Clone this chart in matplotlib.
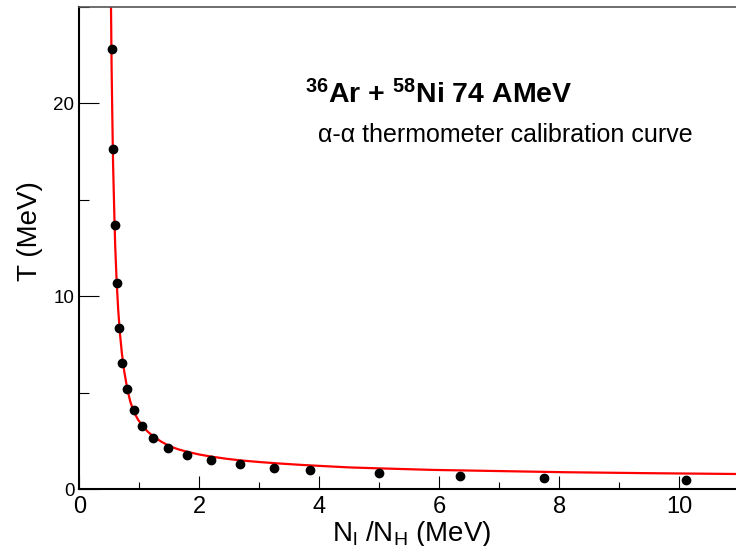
import matplotlib
matplotlib.use("Agg")
import matplotlib.pyplot as plt
from matplotlib.ticker import MultipleLocator

plt.rcParams['font.family'] = ['Liberation Sans', 'DejaVu Sans']
plt.rcParams['mathtext.fontset'] = 'custom'
plt.rcParams['mathtext.rm'] = 'Liberation Sans'
plt.rcParams['mathtext.bf'] = 'Liberation Sans:bold'
plt.rcParams['mathtext.it'] = 'Liberation Sans:italic'

# measured points (N_l/N_H, T)
ratio = [0.542, 0.568, 0.592, 0.625, 0.663, 0.718, 0.797, 0.905, 1.042, 1.227,
         1.472, 1.79, 2.19, 2.68, 3.24, 3.85, 5.0, 6.35, 7.75, 10.12]
temp = [22.8, 17.65, 13.7, 10.69, 8.33, 6.53, 5.17, 4.08, 3.28, 2.63,
        2.15, 1.77, 1.51, 1.28, 1.11, 0.99, 0.82, 0.69, 0.59, 0.45]

# calibration curve
curve_r = [0.525, 0.53, 0.54, 0.552, 0.565, 0.585, 0.60, 0.625, 0.65, 0.68,
           0.71, 0.75, 0.80, 0.85, 0.91, 0.98, 1.05, 1.14, 1.24, 1.37,
           1.51, 1.65, 1.80, 2.00, 2.20, 2.45, 2.70, 3.00, 3.30, 3.70,
           4.00, 4.50, 5.00, 5.90, 7.00, 8.10, 9.50, 10.90, 11.30]
curve_t = [26.9, 25.0, 21.9, 19.3, 16.8, 14.3, 12.6, 10.7, 9.3, 8.04,
           7.08, 6.11, 5.21, 4.55, 4.0, 3.6, 3.3, 2.98, 2.72, 2.45,
           2.22, 2.06, 1.93, 1.79, 1.68, 1.57, 1.48, 1.40, 1.33, 1.25,
           1.20, 1.12, 1.07, 0.99, 0.93, 0.87, 0.82, 0.78, 0.77]

fig = plt.figure(figsize=(7.36, 5.46), dpi=100)
ax = fig.add_axes([79.2/736, 57/546, 666/736, 482/546])

ax.plot(curve_r, curve_t, color='red', lw=1.6, zorder=2)
ax.plot(ratio, temp, 'o', color='black', ms=6, zorder=3)

ax.set_xlim(0, 11.1)
ax.set_ylim(0, 25)

ax.xaxis.set_major_locator(MultipleLocator(2))
ax.xaxis.set_minor_locator(MultipleLocator(1))
ax.yaxis.set_major_locator(MultipleLocator(10))
ax.yaxis.set_minor_locator(MultipleLocator(5))

ax.tick_params(axis='x', which='major', direction='in', length=9.5, width=0.8,
               labelsize=17, pad=5)
ax.tick_params(axis='x', which='minor', direction='in', length=4.7, width=0.8)
ax.tick_params(axis='y', which='major', direction='in', length=14.4, width=0.8,
               labelsize=13.5, pad=3.5)
ax.tick_params(axis='y', which='minor', direction='in', length=7.2, width=0.8)

for s in ['left', 'bottom']:
    ax.spines[s].set_linewidth(1.5)
ax.spines['top'].set_linewidth(1.2)
ax.spines['top'].set_color('#555555')
ax.spines['right'].set_visible(False)

fig.text(30/736, 1 - 231/546, 'T (MeV)', rotation=90, ha='center', va='center',
         fontsize=20)
fig.text(412/736, 5/546, r'N$_{\mathrm{l}}$ /N$_{\mathrm{H}}$ (MeV)',
         ha='center', va='baseline', fontsize=20)

fig.text(305/736, 1 - 103/546, r'$^{\mathbf{36}}$Ar + $^{\mathbf{58}}$Ni 74 AMeV',
         ha='left', va='baseline', fontsize=20.5, fontweight='bold')
fig.text(318/736, 1 - 141.7/546, 'α-α thermometer calibration curve',
         ha='left', va='baseline', fontsize=18)

fig.savefig('out.png', dpi=100)
